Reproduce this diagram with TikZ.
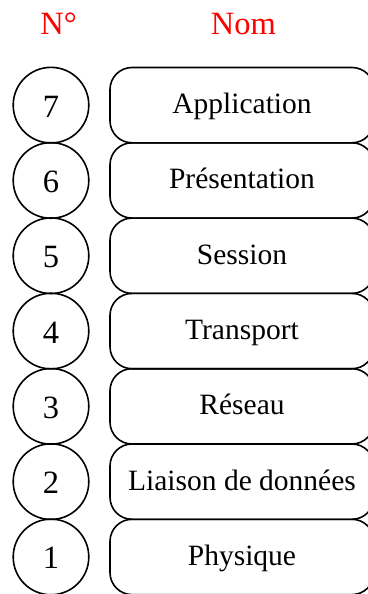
\documentclass[tikz,border=0pt]{standalone}
\usepackage{fontspec}
\setmainfont{Liberation Serif}
\begin{document}
\begin{tikzpicture}[x=1pt, y=-1pt,
  layerbox/.style={draw, line width=1.6pt, rounded corners=22pt,
    minimum width=264pt, minimum height=75.3pt, inner sep=0pt,
    text height=21pt, text depth=4pt,
    font=\fontsize{29.5}{34}\selectfont},
  numcircle/.style={draw, circle, line width=1.6pt, minimum size=75.6pt,
    inner sep=0pt, text height=24pt, text depth=0pt,
    font=\fontsize{32.5}{38}\selectfont},
  header/.style={anchor=base, text=red, inner sep=0pt,
    font=\fontsize{32.5}{38}\selectfont}]
\useasboundingbox (0,0) rectangle (367,594);

% column headers
\node[header] (hnum) at (58.7,34.3) {N°};
\node[header] (hname) at (243.3,34.3) {Nom};

% the seven layers, top to bottom
\foreach \n/\name [count=\k from 0] in {7/Application, 6/Présentation,
    5/Session, 4/Transport, 3/Réseau, 2/Liaison de données, 1/Physique} {
  \node[numcircle] (c\n) at (51, 105.15+75.3*\k) {\n};
  \node[layerbox] (l\n) at (242, 105.15+75.3*\k) {\name};
}
\end{tikzpicture}
\end{document}
